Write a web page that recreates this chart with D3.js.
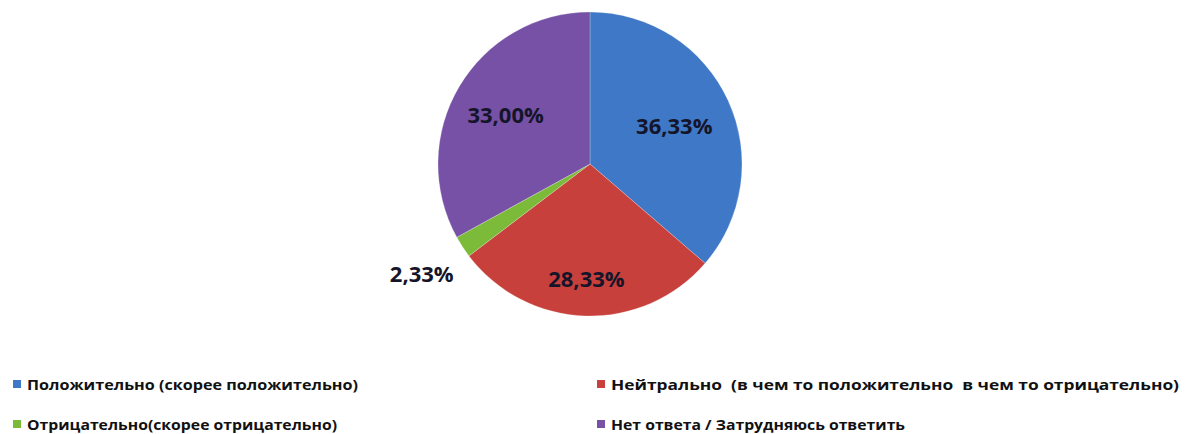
<!DOCTYPE html>
<html>
<head>
<meta charset="utf-8">
<script src="https://cdn.jsdelivr.net/npm/d3@7"></script>
<style>
  html, body { margin: 0; padding: 0; background: #fff; }
  svg { display: block; }
  .pie-label { font-family: "Open Sans", "DejaVu Sans", sans-serif; font-weight: 700; font-size: 22px; fill: #15152a; }
  .legend-text { font-family: "Open Sans", "DejaVu Sans", sans-serif; font-weight: 700; font-size: 15px; fill: #111; }
</style>
</head>
<body>
<div id="chart"></div>
<script>
const categories = [
  "Положительно (скорее положительно)",
  "Нейтрально  (в чем то положительно  в чем то отрицательно)",
  "Отрицательно(скорее отрицательно)",
  "Нет ответа / Затрудняюсь ответить",
];
const values = [36.33, 28.33, 2.33, 33.0];
const labels = ["36,33%", "28,33%", "2,33%", "33,00%"];
const colors = ["#3e78c6", "#c8403c", "#7cba3a", "#7651a6"];

// legend order as in the picture: two columns, two rows
const legendOrder = [0, 1, 2, 3];
const legendWidths = [331, 568, 310, 294];

// label distance from centre, as share of radius (Excel "best fit")
const labelRadius = [0.61, 0.75, 1.32, 0.645];

const width = 1185;
const height = 434;
const cx = 590;
const cy = 164;
const radius = 152;

const svg = d3.select("#chart").append("svg")
  .attr("width", width)
  .attr("height", height);

const pie = d3.pie().sort(null).value((d) => d);
const arcs = pie(values);
const arc = d3.arc().innerRadius(0).outerRadius(radius);

const g = svg.append("g").attr("transform", `translate(${cx},${cy})`);

g.selectAll("path.slice")
  .data(arcs)
  .join("path")
  .attr("class", "slice")
  .attr("d", arc)
  .attr("fill", (d, i) => colors[i])
  .attr("stroke", "#fff")
  .attr("stroke-opacity", 0.4)
  .attr("stroke-width", 0.6);

g.selectAll("text.pie-label")
  .data(arcs)
  .join("text")
  .attr("class", "pie-label")
  .attr("text-anchor", "middle")
  .attr("dominant-baseline", "central")
  .attr("transform", (d, i) => {
    const r = radius * labelRadius[i];
    const [x, y] = d3.arc().innerRadius(r).outerRadius(r).centroid(d);
    return `translate(${x},${y})`;
  })
  .text((d, i) => labels[i]);

const legend = svg.append("g");
const colX = [13, 597];
const rowY = [384, 424];

legendOrder.forEach((idx, k) => {
  const x = colX[k % 2];
  const y = rowY[Math.floor(k / 2)];
  const item = legend.append("g").attr("transform", `translate(${x},${y})`);
  item.append("rect")
    .attr("x", 0).attr("y", -4)
    .attr("width", 8).attr("height", 8)
    .attr("fill", colors[idx]);
  item.append("text")
    .attr("class", "legend-text")
    .attr("x", 14)
    .attr("dominant-baseline", "central")
    .attr("textLength", legendWidths[k])
    .attr("lengthAdjust", "spacingAndGlyphs")
    .attr("xml:space", "preserve")
    .style("white-space", "pre")
    .text(categories[idx]);
});
</script>
</body>
</html>
